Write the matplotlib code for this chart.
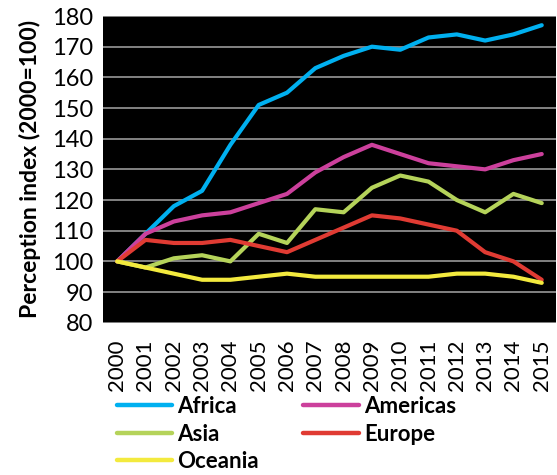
import matplotlib.pyplot as plt
import numpy as np

# data
years = [str(y) for y in range(2000, 2016)]
africa = [100, 109, 118, 123, 138, 151, 155, 163, 167, 170, 169, 173, 174, 172, 174, 177]
americas = [100, 109, 113, 115, 116, 119, 122, 129, 134, 138, 135, 132, 131, 130, 133, 135]
asia = [100, 98, 101, 102, 100, 109, 106, 117, 116, 124, 128, 126, 120, 116, 122, 119]
europe = [100, 107, 106, 106, 107, 105, 103, 107, 111, 115, 114, 112, 110, 103, 100, 94]
oceania = [100, 98, 96, 94, 94, 95, 96, 95, 95, 95, 95, 95, 96, 96, 95, 93]

series = [
    ("Africa", africa, "#00B0F0"),
    ("Americas", americas, "#CC409C"),
    ("Asia", asia, "#B5D35A"),
    ("Europe", europe, "#E03B33"),
    ("Oceania", oceania, "#F3EA3E"),
]

plt.rcParams['font.family'] = ['Lato', 'DejaVu Sans']

fig = plt.figure(figsize=(5.57, 4.75), dpi=100)
ax = fig.add_axes([0.185, 0.3206, 0.813, 0.6457])
ax.set_facecolor("black")

x = np.arange(len(years))
lines = {}
for name, vals, col in series:
    lines[name], = ax.plot(x, vals, color=col, lw=3.0, label=name,
                           solid_joinstyle="round", solid_capstyle="round", zorder=3)

ax.set_xlim(-0.5, len(years) - 0.5)
ax.set_ylim(80, 180)
ax.set_yticks(range(80, 181, 10))
ax.set_xticks(x)
ax.set_xticklabels(years, rotation=90, fontsize=16)
ax.tick_params(axis="y", labelsize=17, length=0, pad=7)
ax.tick_params(axis="x", length=0, pad=12)
ax.yaxis.grid(True, color="#8C8C8C", lw=1.3, zorder=1)
ax.set_axisbelow(True)
for s in ax.spines.values():
    s.set_visible(False)

ax.set_ylabel("Perception index (2000=100)", fontsize=16.5, fontweight="bold",
              labelpad=8)

# legend filled row by row like the original (matplotlib fills columns)
order = ["Africa", "Asia", "Oceania", "Americas", "Europe"]
leg = fig.legend([lines[n] for n in order], order, loc="upper left",
                 bbox_to_anchor=(0.190, 0.190), ncol=2,
                 frameon=False, borderpad=0, handlelength=2.5, handletextpad=0.22,
                 columnspacing=2.0, labelspacing=0.3,
                 prop={"weight": "bold", "size": 16})
for line in leg.get_lines():
    line.set_linewidth(3.2)
    line.set_solid_capstyle("round")

fig.savefig("out.png", dpi=100)
